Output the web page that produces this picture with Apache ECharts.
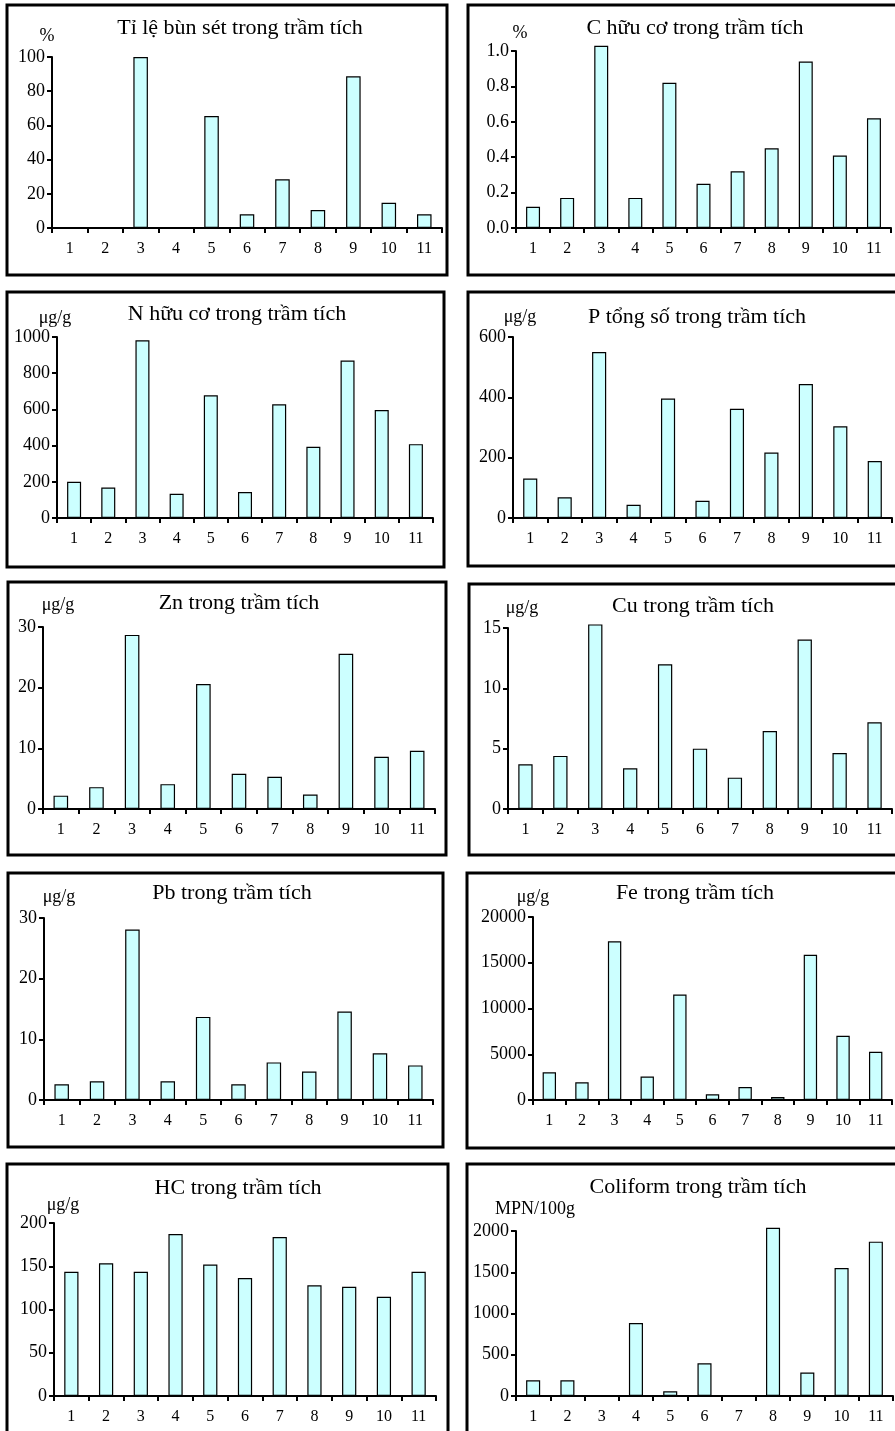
<!DOCTYPE html>
<html lang="vi">
<head>
    <meta charset="UTF-8">
    <title>Trầm tích</title>
    <script type="text/javascript" src="https://cdn.jsdelivr.net/npm/echarts@6/dist/echarts.min.js"></script>
    <style>
        html, body {margin: 0; padding: 0; background: #fff;}
    </style>
</head>
<body>
<div id="main" style="width: 895px;height: 1431px"></div>
</body>
<script>
    // điểm lấy mẫu
    var stations = ["1", "2", "3", "4", "5", "6", "7", "8", "9", "10", "11"]

    var titles = ["Tỉ lệ bùn sét trong trầm tích", "C hữu cơ trong trầm tích", "N hữu cơ trong trầm tích",
        "P tổng số trong trầm tích", "Zn trong trầm tích", "Cu trong trầm tích", "Pb trong trầm tích",
        "Fe trong trầm tích", "HC trong trầm tích", "Coliform trong trầm tích"]
    var units = ["%", "%", "μg/g", "μg/g", "μg/g", "μg/g", "μg/g", "μg/g", "μg/g", "MPN/100g"]

    var mud = [0, 0, 100, 0, 65.5, 8, 28.5, 10.5, 88.7, 14.8, 8]
    var carbon = [0.12, 0.17, 1.03, 0.17, 0.82, 0.25, 0.32, 0.45, 0.94, 0.41, 0.62]
    var nitrogen = [200, 168, 982, 134, 678, 144, 628, 393, 870, 597, 408]
    var phosphorus = [131, 69, 550, 44, 396, 57, 362, 217, 444, 304, 189]
    var zinc = [2.2, 3.6, 28.7, 4.1, 20.6, 5.8, 5.3, 2.4, 25.6, 8.6, 9.6]
    var copper = [3.7, 4.4, 15.3, 3.37, 12.0, 5.0, 2.6, 6.46, 14.04, 4.64, 7.18]
    var lead = [2.6, 3.1, 28.1, 3.1, 13.7, 2.6, 6.2, 4.7, 14.6, 7.7, 5.7]
    var iron = [3030, 1930, 17340, 2560, 11530, 620, 1420, 330, 15880, 7010, 5260]
    var hc = [143.5, 153.5, 143.5, 187.3, 152, 136.5, 183.8, 128, 126.2, 114.6, 143.5]
    var coliform = [190, 190, 0, 885, 57, 396, 0, 2040, 285, 1552, 1871]

    // trục tung: max, bước
    var yMax = [100, 1.0, 1000, 600, 30, 15, 30, 20000, 200, 2000]
    var yStep = [20, 0.2, 200, 200, 10, 5, 10, 5000, 50, 500]

    var allData = [mud, carbon, nitrogen, phosphorus, zinc, copper, lead, iron, hc, coliform]

    // bố cục từng ô: khung, vùng vẽ, tiêu đề, đơn vị
    var panels = [
        {box: [7, 5, 440, 270], grid: [52, 57, 390, 171], tt: [240, 28], un: [-5, 12]},
        {box: [468, 5, 440, 270], grid: [516, 51, 375, 177], tt: [695, 28], un: [4, 5]},
        {box: [7, 292, 437, 275], grid: [57, 337, 376, 181], tt: [237, 314], un: [-2, 10]},
        {box: [468, 292, 440, 274], grid: [513, 337, 379, 181], tt: [697, 317], un: [7, 11]},
        {box: [8, 582, 438, 273], grid: [43, 627, 392, 182], tt: [239, 603], un: [15, 13]},
        {box: [469, 584, 440, 271], grid: [508, 628, 384, 181], tt: [693, 606], un: [14, 11]},
        {box: [8, 873, 435, 274], grid: [44, 918, 389, 182], tt: [232, 893], un: [15, 12]},
        {box: [467, 873, 440, 275], grid: [533, 917, 359, 183], tt: [695, 893], un: [0, 11]},
        {box: [7, 1164, 441, 290], grid: [54, 1223, 382, 173], tt: [238, 1188], un: [9, 3]},
        {box: [467, 1164, 440, 290], grid: [516, 1231, 377, 165], tt: [698, 1187], un: [19, 13]}
    ]

    var font = "Liberation Serif, Times New Roman, serif"
    var grids = [], xAxes = [], yAxes = [], series = [], graphics = []

    for (var i = 0; i < panels.length; i++) {
        var p = panels[i]
        graphics.push({
            type: "rect", shape: {x: p.box[0], y: p.box[1], width: p.box[2], height: p.box[3]},
            style: {fill: null, stroke: "#000", lineWidth: 3}, z: 10
        })
        graphics.push({
            type: "text", x: p.tt[0], y: p.tt[1],
            style: {text: titles[i], font: "22px " + font, fill: "#000", textAlign: "center", textVerticalAlign: "middle"}
        })
        grids.push({
            left: p.grid[0], top: p.grid[1], width: p.grid[2], height: p.grid[3],
            containLabel: false, outerBoundsMode: "none"
        })
        xAxes.push({
            type: "category", gridIndex: i, data: stations, boundaryGap: true,
            axisLine: {show: true, lineStyle: {color: "#000", width: 2}},
            axisTick: {show: true, length: 5, lineStyle: {color: "#000", width: 2}},
            axisLabel: {color: "#000", fontFamily: font, fontSize: 16, margin: 13, interval: 0},
            splitLine: {show: false}
        })
        var un = p.un
        yAxes.push({
            type: "value", gridIndex: i, min: 0, max: yMax[i], interval: yStep[i],
            name: units[i], nameLocation: "end", nameGap: un[1],
            nameTextStyle: {
                color: "#000", fontFamily: font, fontSize: 18,
                padding: un[0] >= 0 ? [0, 0, 0, un[0] * 2] : [0, -un[0] * 2, 0, 0]
            },
            axisLine: {show: true, lineStyle: {color: "#000", width: 2}},
            axisTick: {show: true, length: 5, lineStyle: {color: "#000", width: 2}},
            axisLabel: {
                color: "#000", fontFamily: font, fontSize: 18, margin: 7,
                formatter: i === 1 ? function (v) { return v.toFixed(1) } : function (v) { return String(v) }
            },
            splitLine: {show: false}
        })
        series.push({
            type: "bar", xAxisIndex: i, yAxisIndex: i, data: allData[i],
            barWidth: "41%", clip: false,
            itemStyle: {color: "#ccffff", borderColor: "#000", borderWidth: 1.2},
            animation: false
        })
    }

    var myChart = echarts.init(document.getElementById("main"))
    myChart.setOption({
        backgroundColor: "#fff",
        animation: false,
        grid: grids,
        xAxis: xAxes,
        yAxis: yAxes,
        series: series,
        graphic: graphics
    })
</script>
</html>
